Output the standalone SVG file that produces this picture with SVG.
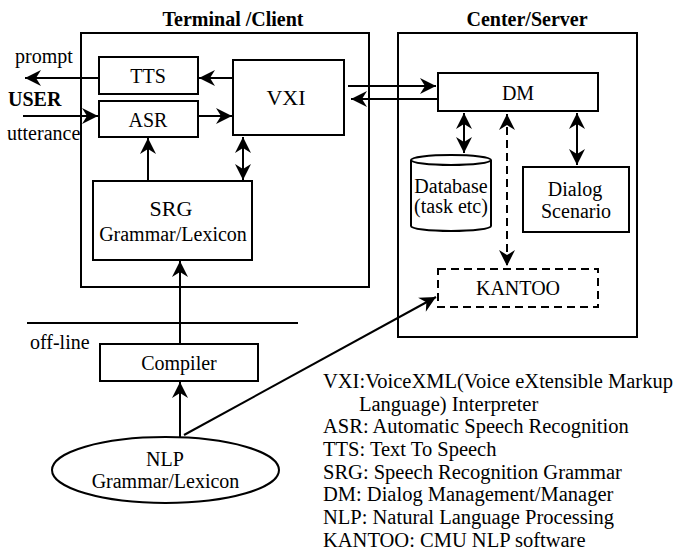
<svg xmlns="http://www.w3.org/2000/svg" width="674" height="559" viewBox="0 0 674 559">
<style>
text{font-family:"Liberation Serif","Times New Roman",serif;font-size:20px;fill:#000}
.b{font-weight:bold}
.m{text-anchor:middle}
.lg{font-size:20.5px}
.box{fill:#fff;stroke:#000;stroke-width:2}
.frame{fill:none;stroke:#000;stroke-width:2}
.dash{stroke-dasharray:8 5}
.c{fill:none;stroke:#000;stroke-width:2}
</style>
<defs>
<marker id="ah" markerUnits="userSpaceOnUse" markerWidth="20" markerHeight="20" viewBox="-18 -10 20 20" refX="0" refY="0" orient="auto-start-reverse">
<path d="M0,0 L-16,-8 L-11,0 L-16,8 Z" fill="#000"/>
</marker>
</defs>
<rect width="674" height="559" fill="#fff"/>

<g id="terminal">
<rect class="frame" x="81" y="33" width="288" height="254"/>
<text class="b m" x="233" y="26">Terminal /Client</text>
</g>
<g id="server">
<rect class="frame" x="398" y="33" width="239" height="304"/>
<text class="b m" x="527" y="26">Center/Server</text>
</g>

<g id="connectors">
<path class="c" d="M99,78 H25" marker-end="url(#ah)"/>
<path class="c" d="M23,116 H98" marker-end="url(#ah)"/>
<path class="c" d="M233,78 H199" marker-end="url(#ah)"/>
<path class="c" d="M198,116 H232" marker-end="url(#ah)"/>
<path class="c" d="M148,181 V138" marker-end="url(#ah)"/>
<path class="c" d="M243,137 V180" marker-start="url(#ah)" marker-end="url(#ah)"/>
<path class="c" d="M180,344 V261" marker-end="url(#ah)"/>
<path class="c" d="M180,437 V382" marker-end="url(#ah)"/>
<path class="c" d="M184,435 L436,297" marker-end="url(#ah)"/>
<path class="c" d="M348,86 H436" marker-end="url(#ah)"/>
<path class="c" d="M438,99 H351" marker-end="url(#ah)"/>
<path class="c" d="M464,113 V153" marker-start="url(#ah)" marker-end="url(#ah)"/>
<path class="c" d="M577,113 V165" marker-start="url(#ah)" marker-end="url(#ah)"/>
<path class="c dash" d="M507,114 V266" marker-start="url(#ah)" marker-end="url(#ah)"/>
<path class="c" d="M27,323 H298"/>
</g>

<g id="tts">
<rect class="box" x="99" y="57" width="99" height="37"/>
<text class="m" x="148" y="83">TTS</text>
</g>
<g id="asr">
<rect class="box" x="99" y="101" width="99" height="36"/>
<text class="m" x="148" y="127">ASR</text>
</g>
<g id="vxi">
<rect class="box" x="233" y="60" width="111" height="75"/>
<text class="m" x="286" y="105" style="font-size:22px">VXI</text>
</g>
<g id="srg">
<rect class="box" x="93" y="181" width="159" height="79"/>
<text class="m" x="171" y="216" style="font-size:22px">SRG</text>
<text class="m" x="173" y="241">Grammar/Lexicon</text>
</g>
<g id="dm">
<rect class="box" x="438" y="73" width="160" height="38"/>
<text class="m" x="518" y="100">DM</text>
</g>
<g id="database">
<path class="box" d="M411,160 V226 A40,5 0 0 0 491,226 V160"/>
<ellipse class="box" cx="451" cy="160" rx="40" ry="5"/>
<text class="m" x="451" y="193">Database</text>
<text class="m" x="451" y="213">(task etc)</text>
</g>
<g id="dialog">
<rect class="box" x="523" y="167" width="106" height="65"/>
<text class="m" x="575" y="196">Dialog</text>
<text class="m" x="576" y="218">Scenario</text>
</g>
<g id="kantoo">
<rect class="box dash" x="438" y="269" width="160" height="38"/>
<text class="m" x="518" y="295">KANTOO</text>
</g>
<g id="compiler">
<rect class="box" x="100" y="344" width="158" height="37"/>
<text class="m" x="179" y="370">Compiler</text>
</g>
<g id="nlp">
<ellipse class="box" cx="165.5" cy="470" rx="113.5" ry="33"/>
<text class="m" x="165" y="466">NLP</text>
<text class="m" x="165.5" y="488">Grammar/Lexicon</text>
</g>

<g id="labels">
<text x="15" y="63">prompt</text>
<text class="b" x="8" y="106">USER</text>
<text x="7" y="140">utterance</text>
<text x="30" y="349">off-line</text>
</g>

<g id="legend">
<text class="lg" x="323" y="388">VXI:VoiceXML(Voice eXtensible Markup</text>
<text class="lg" x="359" y="410.7">Language) Interpreter</text>
<text class="lg" x="323" y="433.3">ASR: Automatic Speech Recognition</text>
<text class="lg" x="323" y="456">TTS: Text To Speech</text>
<text class="lg" x="323" y="478.6">SRG: Speech Recognition Grammar</text>
<text class="lg" x="323" y="501.3">DM: Dialog Management/Manager</text>
<text class="lg" x="323" y="524">NLP: Natural Language Processing</text>
<text class="lg" x="323" y="546.6">KANTOO: CMU NLP software</text>
</g>
</svg>
